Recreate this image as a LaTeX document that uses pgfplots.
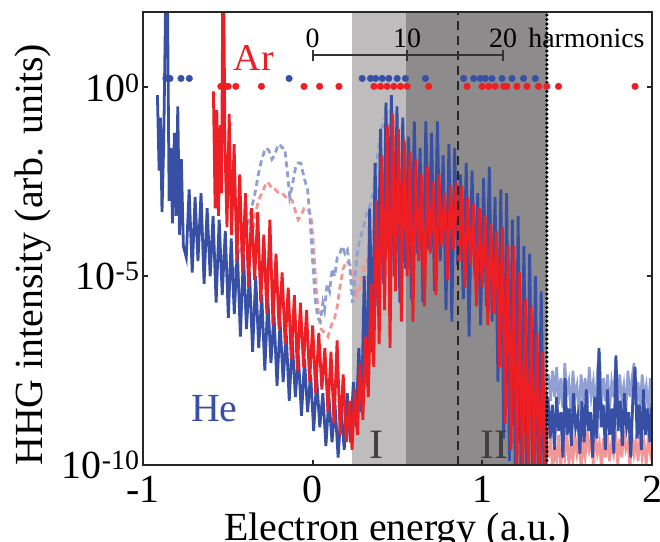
\documentclass[border=0pt]{standalone}
\usepackage{fontspec}
\setmainfont{Liberation Serif}
\usepackage{pgfplots}
\pgfplotsset{compat=1.18}
\definecolor{hecol}{RGB}{55,80,165}
\definecolor{arcol}{RGB}{237,30,36}
\definecolor{hedash}{RGB}{145,160,210}
\definecolor{ardash}{RGB}{242,150,150}
\definecolor{gI}{RGB}{190,188,189}
\definecolor{gII}{RGB}{141,139,140}
\newcommand\bigf{\fontsize{40}{44}\selectfont}
\begin{document}
\begin{tikzpicture}
\begin{axis}[
  scale only axis, width=509bp, height=453bp,
  xmin=-1, xmax=2, ymin=-10, ymax=2,
  xtick={-1,0,1,2}, xticklabels={-1,0,1,2},
  ytick={-10,-5,0},
  yticklabels={10\textsuperscript{-10},10\textsuperscript{-5},10\textsuperscript{0}},
  tick align=inside, major tick length=5bp,
  xtick pos=left, ytick pos=both,
  every tick/.style={line width=2bp, black!85},
  axis line style={line width=2.4bp, black!85},
  tick label style={font=\bigf},
  xticklabel style={yshift=-10bp, inner sep=1bp},
  axis on top,
  xlabel={Electron energy (a.u.)},
  xlabel style={font=\bigf, at={(axis description cs:0.5,-0.1656)}, anchor=base, inner sep=1bp},
  ylabel={HHG intensity (arb. units)},
  ylabel style={font=\bigf, at={(axis description cs:-0.198,0.464)}, anchor=base},
]
% shaded regions
\addplot[draw=none, fill=gI] coordinates {(0.232,-10) (0.232,2) (0.55,2) (0.55,-10)} -- cycle;
\addplot[draw=none, fill=gII] coordinates {(0.55,-10) (0.55,2) (1.38,2) (1.38,-10)} -- cycle;

% Ar dashed (pink)
\addplot[ardash, line width=2.8bp, dash pattern=on 6bp off 4bp] coordinates {
(-0.360,-4.0) (-0.340,-3.4) (-0.320,-3.0) (-0.300,-2.8) (-0.280,-2.6) (-0.265,-2.5)
(-0.250,-2.6) (-0.235,-2.7) (-0.220,-2.7) (-0.200,-2.8) (-0.180,-2.8) (-0.160,-2.9)
(-0.140,-2.9) (-0.120,-3.0) (-0.100,-3.3) (-0.085,-3.5) (-0.070,-3.4) (-0.050,-3.2)
(-0.030,-3.2) (-0.010,-3.4) (0.005,-4.2) (0.020,-5.3) (0.035,-6.0) (0.050,-6.4)
(0.070,-6.5) (0.090,-6.6) (0.110,-6.3) (0.130,-6.1) (0.145,-5.8) (0.160,-5.3)
(0.180,-4.8) (0.200,-4.6) (0.220,-4.7) (0.240,-5.1) (0.260,-5.5) (0.280,-5.3)
(0.300,-4.8) (0.320,-4.6) (0.340,-4.2) (0.360,-3.6) (0.380,-3.0) (0.400,-2.4) (0.420,-1.8)
};
\addplot[ardash, line width=2.6bp] coordinates {
(1.390,-9.8) (1.402,-9.3) (1.414,-10.2) (1.426,-9.5) (1.438,-9.9) (1.450,-9.2)
(1.462,-10.1) (1.474,-9.4) (1.486,-9.8) (1.498,-9.1) (1.510,-10.0) (1.522,-9.5)
(1.534,-9.9) (1.546,-9.2) (1.558,-9.7) (1.570,-9.3) (1.582,-10.1) (1.594,-9.4)
(1.606,-9.8) (1.618,-9.1) (1.630,-9.6) (1.642,-9.3) (1.654,-10.0) (1.666,-9.2)
(1.678,-9.7) (1.690,-9.4) (1.702,-10.1) (1.714,-9.3) (1.726,-9.8) (1.738,-9.2)
(1.750,-9.9) (1.762,-9.4) (1.774,-9.7) (1.786,-9.1) (1.798,-10.0) (1.810,-9.3)
(1.822,-9.8) (1.834,-9.2) (1.846,-9.6) (1.858,-9.4) (1.870,-10.1) (1.882,-9.2)
(1.894,-9.7) (1.906,-9.3) (1.918,-9.9) (1.930,-9.2) (1.942,-9.8) (1.954,-9.4)
(1.966,-10.0) (1.978,-9.3) (1.990,-9.7) (2.000,-9.4)
};

% He dashed (light blue)
\addplot[hedash, line width=2.8bp, dash pattern=on 6bp off 4bp] coordinates {
(-0.500,-5.4) (-0.480,-5.0) (-0.460,-4.9) (-0.440,-4.5) (-0.420,-4.1) (-0.400,-3.9)
(-0.380,-3.6) (-0.360,-3.2) (-0.340,-2.8) (-0.320,-2.3) (-0.300,-1.9) (-0.285,-1.7)
(-0.270,-1.6) (-0.255,-1.7) (-0.240,-1.9) (-0.225,-1.8) (-0.210,-1.6) (-0.195,-1.5)
(-0.180,-1.6) (-0.165,-1.6) (-0.150,-2.2) (-0.135,-2.9) (-0.120,-2.6) (-0.100,-2.1)
(-0.085,-2.0) (-0.070,-2.0) (-0.050,-2.4) (-0.030,-2.7) (-0.015,-3.5) (0.000,-4.6)
(0.015,-5.6) (0.030,-6.1) (0.045,-6.2) (0.060,-5.7) (0.070,-5.9) (0.085,-5.2)
(0.100,-5.4) (0.115,-4.8) (0.130,-5.0) (0.145,-4.5) (0.160,-4.4) (0.175,-4.2)
(0.190,-4.4) (0.205,-4.3) (0.220,-4.8) (0.235,-5.7) (0.250,-5.0) (0.265,-4.3)
(0.280,-4.0) (0.300,-3.7) (0.320,-3.3) (0.340,-3.1) (0.360,-2.7) (0.380,-1.9)
(0.400,-1.3) (0.420,-0.8)
};
\addplot[hedash, line width=2.6bp] coordinates {
(1.390,-7.6) (1.402,-8.3) (1.414,-7.5) (1.426,-8.2) (1.438,-7.4) (1.450,-8.4)
(1.462,-7.7) (1.474,-8.5) (1.486,-7.3) (1.498,-8.1) (1.510,-7.8) (1.522,-8.6)
(1.534,-7.5) (1.546,-8.2) (1.558,-7.9) (1.570,-8.7) (1.582,-7.6) (1.594,-8.3)
(1.606,-7.7) (1.618,-8.5) (1.630,-7.4) (1.642,-8.2) (1.654,-7.8) (1.666,-8.6)
(1.678,-7.5) (1.690,-7.0) (1.702,-8.4) (1.714,-7.7) (1.726,-8.3) (1.738,-7.6)
(1.750,-8.5) (1.762,-7.8) (1.774,-8.2) (1.786,-7.2) (1.798,-8.4) (1.810,-7.6)
(1.822,-8.3) (1.834,-7.9) (1.846,-8.6) (1.858,-7.5) (1.870,-8.2) (1.882,-7.7)
(1.894,-7.3) (1.906,-8.4) (1.918,-7.8) (1.930,-8.5) (1.942,-7.6) (1.954,-8.2)
(1.966,-7.9) (1.978,-8.6) (1.990,-7.7) (2.000,-8.3)
};

% He solid
\addplot[hecol, line width=2.8bp] coordinates {
(-0.915,-0.2) (-0.905,-2.2) (-0.897,-0.8) (-0.888,-3.3) (-0.878,-1.5) (-0.866,2.5)
(-0.856,2.5) (-0.846,-3.0) (-0.836,-1.6) (-0.826,-3.6) (-0.815,-1.2) (-0.805,-3.4)
(-0.795,-0.5) (-0.785,-3.9) (-0.774,-1.9) (-0.762,-4.2)
(-0.745,-4.5) (-0.728,-2.7) (-0.710,-4.9) (-0.693,-2.9) (-0.676,-4.6) (-0.658,-2.8)
(-0.640,-5.2) (-0.622,-3.2) (-0.604,-5.0) (-0.587,-3.4) (-0.569,-5.7) (-0.551,-3.5)
(-0.533,-5.5) (-0.515,-3.8) (-0.497,-6.1) (-0.480,-4.0) (-0.462,-6.0) (-0.444,-4.3)
(-0.426,-6.6) (-0.408,-4.4) (-0.390,-6.4) (-0.372,-4.9) (-0.354,-7.0) (-0.336,-5.0)
(-0.318,-6.9) (-0.300,-5.5) (-0.282,-7.5) (-0.264,-5.6) (-0.246,-7.3) (-0.228,-6.0)
(-0.210,-7.9) (-0.192,-6.2) (-0.174,-7.8) (-0.156,-6.5) (-0.138,-8.3) (-0.120,-6.7)
(-0.102,-8.2) (-0.084,-7.1) (-0.066,-8.7) (-0.048,-7.2) (-0.030,-8.6) (-0.012,-7.6)
(0.006,-9.1) (0.024,-7.7) (0.042,-9.0) (0.060,-8.1) (0.078,-9.5) (0.096,-8.2)
(0.114,-9.4) (0.132,-8.4) (0.150,-9.8) (0.168,-8.5) (0.186,-9.6) (0.204,-8.1)
(0.222,-9.4) (0.240,-7.8) (0.256,-9.0) (0.272,-6.9) (0.288,-8.6) (0.304,-5.0)
(0.320,-7.9) (0.336,-3.2) (0.352,-7.0) (0.368,-2.0) (0.384,-5.8) (0.400,-1.1)
(0.416,-5.2) (0.432,-0.4) (0.448,-4.3) (0.464,-0.2) (0.480,-5.0) (0.497,-0.5)
(0.514,-5.7) (0.531,-0.8) (0.548,-4.8) (0.565,-1.3) (0.582,-5.6) (0.599,-0.9)
(0.616,-4.4) (0.633,-1.6) (0.650,-5.7) (0.667,-0.9) (0.684,-4.3) (0.701,-1.2)
(0.718,-5.4) (0.735,-0.9) (0.752,-4.6) (0.769,-1.8) (0.786,-5.9) (0.803,-1.5)
(0.820,-6.2) (0.837,-1.6) (0.854,-4.7) (0.871,-2.3) (0.888,-5.6) (0.905,-2.0)
(0.922,-6.6) (0.939,-2.2) (0.956,-5.0) (0.973,-2.8) (0.990,-6.3) (1.007,-2.4)
(1.024,-5.8) (1.041,-2.1) (1.058,-6.2) (1.075,-2.9) (1.092,-7.8) (1.109,-2.7)
(1.126,-9.3) (1.143,-2.8) (1.160,-9.9) (1.177,-3.5) (1.194,-10.4) (1.211,-3.4)
(1.228,-10.3) (1.245,-4.2) (1.262,-10.5) (1.279,-4.4) (1.296,-10.2) (1.313,-5.0)
(1.330,-10.5) (1.347,-5.4) (1.364,-10.4) (1.380,-8.2)
(1.3875,-8.3) (1.4000,-9.3) (1.4125,-8.4) (1.4250,-9.6) (1.4375,-8.2) (1.4500,-9.1)
(1.4625,-8.6) (1.4750,-9.8) (1.4875,-7.7) (1.5000,-9.2) (1.5125,-8.5) (1.5250,-9.5)
(1.5375,-8.1) (1.5500,-9.0) (1.5625,-8.7) (1.5750,-9.7) (1.5875,-8.3) (1.6000,-9.4)
(1.6125,-8.0) (1.6250,-9.1) (1.6375,-8.6) (1.6500,-9.8) (1.6625,-8.2) (1.6750,-9.3)
(1.6875,-6.9) (1.7000,-9.0) (1.7125,-8.4) (1.7250,-9.6) (1.7375,-8.0) (1.7500,-9.2)
(1.7625,-8.5) (1.7750,-9.7) (1.7875,-7.1) (1.8000,-9.1) (1.8125,-8.3) (1.8250,-9.5)
(1.8375,-8.1) (1.8500,-9.0) (1.8625,-8.6) (1.8750,-9.8) (1.8875,-8.2) (1.9000,-7.4)
(1.9125,-9.3) (1.9250,-8.4) (1.9375,-9.6) (1.9500,-8.0) (1.9625,-9.2) (1.9750,-8.5)
(1.9875,-9.4) (2.0000,-8.3)
};

% Ar solid
\addplot[arcol, line width=2.8bp] coordinates {
(-0.585,-0.1) (-0.575,-3.2) (-0.565,-0.6) (-0.555,-3.4) (-0.545,-1.0) (-0.537,-2.8)
(-0.530,2.5) (-0.524,2.5) (-0.517,-1.5) (-0.505,-3.7) (-0.492,-0.7) (-0.478,-3.9)
(-0.463,-1.5) (-0.447,-4.6) (-0.430,-2.3) (-0.413,-4.9) (-0.396,-2.8) (-0.378,-5.3)
(-0.360,-3.2) (-0.342,-5.1) (-0.324,-3.3) (-0.306,-5.7) (-0.288,-3.9) (-0.270,-6.0)
(-0.252,-3.5) (-0.234,-6.3) (-0.216,-4.4) (-0.198,-6.4) (-0.180,-4.9) (-0.162,-6.8)
(-0.144,-5.3) (-0.126,-7.2) (-0.108,-5.5) (-0.090,-7.5) (-0.072,-5.7) (-0.054,-7.4)
(-0.036,-5.9) (-0.018,-7.8) (0.000,-6.3) (0.018,-8.1) (0.036,-6.5) (0.054,-8.0)
(0.072,-6.9) (0.090,-8.6) (0.108,-7.0) (0.126,-8.9) (0.144,-6.7) (0.162,-9.2)
(0.180,-7.6) (0.198,-9.4) (0.216,-8.3) (0.232,-9.6) (0.248,-8.0) (0.264,-9.2)
(0.280,-7.3) (0.296,-8.8) (0.312,-6.6) (0.328,-8.2) (0.344,-5.2) (0.360,-7.4)
(0.376,-3.0) (0.392,-6.8) (0.408,-1.8) (0.424,-5.9) (0.440,-1.0) (0.456,-6.9)
(0.472,-0.7) (0.489,-5.4) (0.506,-1.1) (0.523,-6.2) (0.540,-1.4) (0.557,-5.0)
(0.574,-1.7) (0.591,-6.2) (0.608,-1.9) (0.625,-4.6) (0.642,-2.3) (0.659,-5.8)
(0.676,-2.1) (0.693,-4.4) (0.710,-2.5) (0.727,-5.5) (0.744,-2.3) (0.761,-4.2)
(0.778,-2.8) (0.795,-5.1) (0.812,-2.6) (0.829,-4.3) (0.846,-2.5) (0.863,-4.6)
(0.880,-2.6) (0.897,-5.3) (0.914,-2.9) (0.931,-4.7) (0.948,-3.1) (0.965,-5.8)
(0.982,-3.2) (0.999,-5.3) (1.016,-3.4) (1.033,-6.3) (1.050,-3.6) (1.067,-6.0)
(1.084,-3.8) (1.101,-7.4) (1.118,-3.7) (1.135,-8.9) (1.152,-4.2) (1.169,-9.6)
(1.186,-4.2) (1.203,-10.4) (1.220,-4.9) (1.237,-10.5) (1.254,-5.6) (1.271,-10.3)
(1.288,-5.8) (1.305,-10.5) (1.322,-6.5) (1.339,-10.5) (1.356,-7.0) (1.372,-10.5)
(1.382,-9.0)
};

% vertical lines
\addplot[black!85, line width=2.4bp, dash pattern=on 9bp off 6bp] coordinates {(0.856,-10) (0.856,2)};
\addplot[black, line width=3.6bp, line cap=round, dash pattern=on 0bp off 4.5bp] coordinates {(1.38,-10) (1.38,2)};

% dots
\addplot[only marks, mark=*, mark size=3.3bp, hecol, mark options={draw=hecol, fill=hecol}] coordinates {
(-0.865,0.24) (-0.841,0.24) (-0.776,0.24) (-0.727,0.24) (-0.139,0.24) (0.292,0.24)
(0.341,0.24) (0.371,0.24) (0.41,0.24) (0.449,0.24) (0.498,0.24) (0.547,0.24)
(0.665,0.24) (0.890,0.24) (0.949,0.24) (0.988,0.24) (1.018,0.24) (1.057,0.24)
(1.116,0.24) (1.175,0.24) (1.243,0.24) (1.312,0.24)
};
\addplot[only marks, mark=*, mark size=3.3bp, arcol, mark options={draw=arcol, fill=arcol}] coordinates {
(-0.541,0.03) (-0.512,0.03) (-0.498,0.03) (-0.453,0.03) (-0.302,0.03) (-0.051,0.03)
(0.041,0.03) (0.155,0.03) (0.361,0.03) (0.4,0.03) (0.439,0.03) (0.478,0.03)
(0.518,0.03) (0.557,0.03) (0.684,0.03) (0.910,0.03) (0.998,0.03) (1.037,0.03)
(1.076,0.03) (1.125,0.03) (1.145,0.03) (1.204,0.03) (1.263,0.03) (1.331,0.03)
(1.380,0.03) (1.449,0.03) (1.9,0.03)
};

% harmonics scale bar
\addplot[black!80, line width=2bp] coordinates {(0,0.85) (1.122,0.85)};
\addplot[black!80, line width=2bp] coordinates {(0,0.70) (0,1.0)};
\addplot[black!80, line width=2bp] coordinates {(0.556,0.70) (0.556,1.0)};
\addplot[black!80, line width=2bp] coordinates {(1.122,0.70) (1.122,1.0)};
\node[anchor=base, font=\fontsize{28}{30}\selectfont] at (axis cs:0,1.07) {0};
\node[anchor=base, font=\fontsize{28}{30}\selectfont] at (axis cs:0.556,1.07) {10};
\node[anchor=base, font=\fontsize{28}{30}\selectfont] at (axis cs:1.122,1.07) {20};
\node[anchor=base west, inner sep=0pt, font=\fontsize{28}{30}\selectfont] at (axis cs:1.27,1.07) {harmonics};

% labels
\node[anchor=base west, inner sep=0pt, text=arcol, font=\fontsize{38}{40}\selectfont] at (axis cs:-0.465,0.45) {Ar};
\node[anchor=base west, inner sep=0pt, text=hecol, font=\bigf] at (axis cs:-0.718,-8.86) {He};
\node[anchor=base, inner sep=0pt, text=black!75, font=\fontsize{42}{44}\selectfont] at (axis cs:0.376,-9.84) {I};
\node[anchor=base, inner sep=0pt, text=black!75, font=\fontsize{42}{44}\selectfont] at (axis cs:1.07,-9.84) {II};
\end{axis}
\pgfresetboundingbox
\path ([shift={(-143bp,-77bp)}]current axis.south west) rectangle ([shift={(8bp,12bp)}]current axis.north east);
\end{tikzpicture}
\end{document}
